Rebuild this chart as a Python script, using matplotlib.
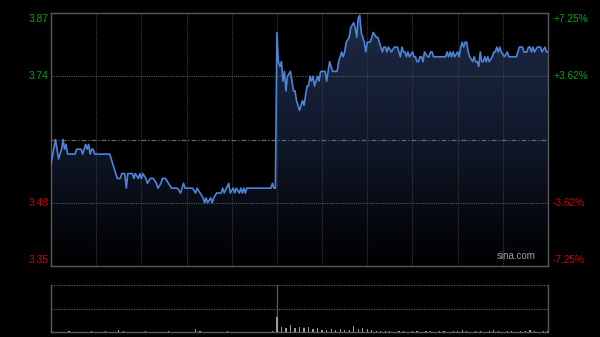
import numpy as np
import matplotlib.pyplot as plt
from matplotlib.colors import LinearSegmentedColormap

plt.rcParams['font.family'] = ['Liberation Sans', 'DejaVu Sans']

# intraday price, minutes from the open (HK session, lunch break collapsed)
minutes = [0, 3, 5, 7, 8, 9, 10, 11, 16, 17, 20, 21, 23, 24, 25, 26, 27, 28, 29, 39,
           44, 46, 47, 49, 50, 51, 54, 55, 56, 58, 59, 60, 61, 63, 64, 66, 68, 70, 71, 73,
           74, 76, 78, 80, 84, 86, 88, 89, 92, 94, 96, 97, 99, 101, 102, 103, 104, 106, 107, 108,
           110, 113, 114, 115, 118, 119, 121, 122, 123, 125, 126, 127, 128, 129, 130, 146, 147, 148, 149,
           150, 151, 152, 153, 154, 155, 156, 157, 159, 160, 161, 162, 163, 164, 165, 167, 168, 169, 170,
           171, 172, 173, 174, 175, 177, 178, 179, 180, 182, 183, 184, 185, 187, 190, 191, 192, 193, 194,
           195, 196, 198, 199, 201, 202, 203, 204, 205, 206, 208, 209, 210, 212, 213, 214, 216, 217, 218,
           220, 221, 222, 223, 224, 226, 228, 230, 232, 233, 234, 235, 236, 237, 238, 240, 241, 242, 243,
           244, 245, 246, 247, 248, 250, 251, 252, 253, 254, 262, 263, 264, 265, 266, 267, 268, 270, 271,
           272, 273, 274, 275, 276, 277, 278, 280, 281, 282, 283, 284, 285, 286, 287, 288, 289, 290, 291,
           293, 294, 295, 296, 297, 298, 299, 301, 303, 304, 305, 309, 310, 311, 313, 314, 316, 317, 318,
           319, 320, 321, 323, 325, 326, 328, 329, 330]
prices = [3.56, 3.61, 3.57, 3.59, 3.61, 3.59, 3.60, 3.58, 3.58, 3.59, 3.59, 3.58, 3.60, 3.59, 3.60, 3.58, 3.59, 3.59, 3.58, 3.58,
          3.53, 3.53, 3.54, 3.54, 3.51, 3.54, 3.54, 3.53, 3.54, 3.53, 3.54, 3.53, 3.54, 3.53, 3.52, 3.53, 3.53, 3.52, 3.51, 3.52,
          3.53, 3.53, 3.52, 3.51, 3.51, 3.50, 3.52, 3.51, 3.51, 3.51, 3.50, 3.51, 3.50, 3.49, 3.48, 3.49, 3.48, 3.49, 3.48, 3.49,
          3.50, 3.50, 3.51, 3.50, 3.52, 3.50, 3.51, 3.50, 3.51, 3.50, 3.51, 3.50, 3.51, 3.50, 3.51, 3.51, 3.52, 3.51, 3.51,
          3.83, 3.77, 3.76, 3.77, 3.73, 3.75, 3.71, 3.74, 3.75, 3.73, 3.71, 3.71, 3.69, 3.68, 3.67, 3.69, 3.68, 3.70, 3.72,
          3.72, 3.74, 3.73, 3.74, 3.72, 3.74, 3.73, 3.75, 3.75, 3.75, 3.73, 3.75, 3.77, 3.75, 3.75, 3.77, 3.78, 3.79, 3.78,
          3.79, 3.81, 3.82, 3.84, 3.85, 3.84, 3.82, 3.86, 3.865, 3.83, 3.81, 3.79, 3.81, 3.81, 3.82, 3.83, 3.82, 3.82, 3.81,
          3.79, 3.80, 3.80, 3.79, 3.80, 3.79, 3.80, 3.80, 3.78, 3.80, 3.79, 3.79, 3.78, 3.79, 3.78, 3.79, 3.78, 3.78, 3.77,
          3.77, 3.78, 3.78, 3.77, 3.79, 3.78, 3.78, 3.79, 3.79, 3.78, 3.78, 3.79, 3.78, 3.79, 3.78, 3.79, 3.78, 3.79, 3.78,
          3.80, 3.81, 3.80, 3.81, 3.81, 3.79, 3.78, 3.77, 3.78, 3.77, 3.77, 3.76, 3.79, 3.77, 3.77, 3.78, 3.77, 3.78, 3.77,
          3.78, 3.79, 3.79, 3.80, 3.79, 3.80, 3.79, 3.78, 3.79, 3.78, 3.78, 3.78, 3.79, 3.80, 3.80, 3.79, 3.79, 3.80, 3.80,
          3.79, 3.80, 3.79, 3.80, 3.80, 3.79, 3.80, 3.79, 3.79]

# volume, one bar every 3 minutes
vol_minutes = list(range(0, 331, 3))
vol_values = [2, 1, 1, 1, 2, 1, 1, 1, 1, 2, 1, 1, 2, 1, 1, 5, 2, 1, 1, 1,
              1, 2, 1, 1, 1, 1, 2, 1, 1, 1, 1, 1, 6, 2, 1, 1, 1, 1, 1, 2,
              1, 1, 1, 1, 1, 1, 1, 1, 1, 2,
              32, 10, 8, 14, 9, 11, 8, 10, 7, 9, 5, 4, 7, 4, 7, 5, 4, 13, 7, 9,
              6, 4, 3, 2, 2, 2, 1, 2, 2, 1, 2, 2, 1, 2, 2, 1, 2, 2, 1, 2,
              2, 5, 2, 1, 2, 2, 1, 2, 4, 2, 1, 2, 2, 1, 2, 2, 4, 2, 1, 2, 2]

prev_close = 3.61
price_ticks = [3.87, 3.74, 3.48, 3.35]
price_labels = ['3.87', '3.74', '3.48', '3.35']
pct_labels = ['+7.25%', '+3.62%', '-3.62%', '-7.25%']
tick_colors = ['#00a800', '#00a800', '#d00000', '#d00000']

ymin, ymax = 3.35, 3.87
xmax = 330

fig = plt.figure(figsize=(6, 3.37), dpi=100, facecolor='black')
ax = fig.add_axes([51 / 600, 71 / 337, 497 / 600, 253 / 337])
vax = fig.add_axes([51 / 600, 5 / 337, 497 / 600, 47 / 337])

for a in (ax, vax):
    a.set_facecolor('black')
    a.set_xlim(0, xmax)
    a.set_xticks([])
    a.set_yticks([])
    for s in a.spines.values():
        s.set_color('#5a5a5a')
        s.set_linewidth(1)

ax.set_ylim(ymin, ymax)

# gradient fill under the line
cmap = LinearSegmentedColormap.from_list('fill', ['#1e2a45', '#10182a', '#000000'])
grad = np.linspace(0, 1, 256).reshape(-1, 1)
img = ax.imshow(grad, cmap=cmap, aspect='auto', extent=[0, xmax, ymin, ymax],
                origin='upper', zorder=1)
poly = ax.fill_between(minutes, prices, ymin, color='none', zorder=1)
img.set_clip_path(poly.get_paths()[0], transform=ax.transData)

# grid
grid_kw = dict(color='#3c3c3c', linewidth=0.8, linestyle=(0, (1, 1)), zorder=2)
for m in range(30, xmax, 30):
    ax.axvline(m, **grid_kw)
for p in (3.74, 3.48):
    ax.axhline(p, color='#555555', linewidth=0.8, linestyle=(0, (1, 1)), zorder=2)
ax.axhline(prev_close, color='#666666', linewidth=0.9, linestyle=(0, (4, 1.5, 1, 1.5)), zorder=2)

ax.plot(minutes, prices, color='#4d84d8', linewidth=1.2, zorder=3)

# price and percent labels
for p, lab, pct, c in zip(price_ticks, price_labels, pct_labels, tick_colors):
    va = 'center'
    off = 0
    if p == ymax:
        off = -6
    elif p == ymin:
        off = 6
    ax.annotate(lab, (0, p), xycoords=('axes fraction', 'data'), xytext=(-3, off),
                textcoords='offset pixels', ha='right', va=va, color=c, fontsize=7.3)
    ax.annotate(pct, (1, p), xycoords=('axes fraction', 'data'), xytext=(5, off),
                textcoords='offset pixels', ha='left', va=va, color=c, fontsize=7.3)

ax.text(0.975, 0.018, 'sina.com', transform=ax.transAxes, ha='right', va='bottom',
        color='#a0a0a0', fontsize=7)

# volume panel
vax.set_ylim(0, 100)
vax.spines['top'].set_visible(False)
vax.axhline(100, color='#5a5a5a', linewidth=0.9, linestyle=(0, (1, 1)))
vax.axhline(50, color='#5a5a5a', linewidth=0.9, linestyle=(0, (1, 1)))
vax.axvline(150, color='#5a5a5a', linewidth=0.9)
vax.bar(vol_minutes, vol_values, width=0.8, color='#9a9a9a', zorder=3)

fig.savefig('out.png', dpi=100, facecolor='black')
